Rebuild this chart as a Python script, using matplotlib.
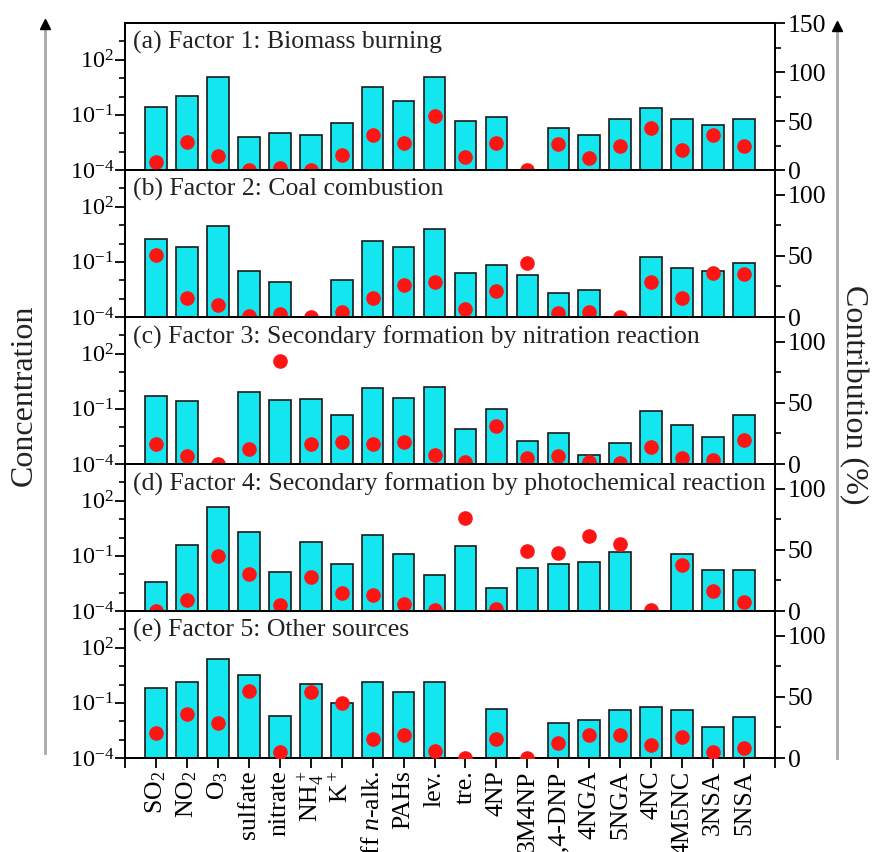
import matplotlib
matplotlib.use("Agg")
import matplotlib.pyplot as plt
import numpy as np
from matplotlib.lines import Line2D
from matplotlib.ticker import FixedLocator, NullFormatter

plt.rcParams["font.family"] = "Liberation Serif"
plt.rcParams["mathtext.fontset"] = "custom"
plt.rcParams["mathtext.rm"] = "Liberation Serif"
plt.rcParams["mathtext.it"] = "Liberation Serif:italic"
plt.rcParams["mathtext.bf"] = "Liberation Serif:bold"
plt.rcParams["axes.unicode_minus"] = False

nan = np.nan

species = ["SO$_2$", "NO$_2$", "O$_3$", "sulfate", "nitrate", "NH$_4^+$", "K$^+$",
           "Diff $n$-alk.", "PAHs", "lev.", "tre.", "4NP", "3M4NP", "2,4-DNP",
           "4NGA", "5NGA", "4NC", "4M5NC", "3NSA", "5NSA"]

titles = ["(a) Factor 1: Biomass burning",
          "(b) Factor 2: Coal combustion",
          "(c) Factor 3: Secondary formation by nitration reaction",
          "(d) Factor 4: Secondary formation by photochemical reaction",
          "(e) Factor 5: Other sources"]

# Konzentrationen (log-Achse, links)
conc_f1 = [0.26, 1.1, 11.4, 0.0066, 0.010, 0.008, 0.035, 3.2, 0.57, 11.4,
           0.049, 0.081, nan, 0.019, 0.008, 0.06, 0.25, 0.06, 0.028, 0.06]
conc_f2 = [1.7, 0.63, 9.2, 0.032, 0.008, nan, 0.011, 1.45, 0.63, 6.1,
           0.026, 0.066, 0.019, 0.0021, 0.0031, nan, 0.18, 0.044, 0.032, 0.085]
conc_f3 = [0.49, 0.28, nan, 0.81, 0.31, 0.35, 0.047, 1.4, 0.38, 1.65,
           0.008, 0.1, 0.0019, 0.0049, 0.00032, 0.0014, 0.081, 0.014, 0.0031, 0.047]
conc_f4 = [0.0038, 0.38, 47, 2.0, 0.013, 0.58, 0.036, 1.3, 0.12, 0.0095,
           0.34, 0.0018, 0.022, 0.038, 0.045, 0.166, nan, 0.12, 0.017, 0.017]
conc_f5 = [0.63, 1.35, 25, 3.1, 0.0195, 1.05, 0.096, 1.35, 0.38, 1.35,
           nan, 0.047, nan, 0.0078, 0.012, 0.041, 0.063, 0.041, 0.0051, 0.018]

# Beitraege in % (rechte Achse)
contrib_f1 = [8, 29, 14, 0, 2, 0, 15, 36, 28, 55, 13, 28, 0, 26.5, 12.5, 24, 42.5, 20.5, 36, 25]
contrib_f2 = [51, 15.5, 9.7, 1, 2.4, 0, 4.3, 15.6, 26.5, 28.5, 6.2, 21, 44, 3, 4.3, 0, 28.5, 15.6, 36, 35.5]
contrib_f3 = [16, 6.7, 0, 12, 84, 16.7, 18, 16, 18, 7.5, 1.3, 31, 4.8, 6.2, 1.3, 1, 14, 4.8, 3.5, 20]
contrib_f4 = [0, 9, 45, 30, 4.6, 28, 14.5, 13, 5.6, 1, 76, 2, 49.4, 47.6, 61.5, 55, 0.5, 37.3, 16.4, 7.5]
contrib_f5 = [20.4, 36, 28.7, 55, 4.7, 53.5, 45, 15.7, 18.4, 5.8, 0, 15.7, 0, 12, 18.4, 19, 10.7, 17, 5.2, 8.5]

concs = [conc_f1, conc_f2, conc_f3, conc_f4, conc_f5]
contribs = [contrib_f1, contrib_f2, contrib_f3, contrib_f4, contrib_f5]
right_max = [150, 120, 120, 120, 120]

ymin, ymax = 1e-4, 1e4
x = np.arange(len(species))

fig, axes = plt.subplots(5, 1, figsize=(8.78, 8.52), dpi=100, sharex=True)
fig.subplots_adjust(left=0.1424, right=0.8827, top=0.973, bottom=0.1103, hspace=0)

for i, ax in enumerate(axes):
    vals = np.array(concs[i], dtype=float)
    ax.set_yscale("log")
    ax.bar(x, vals - ymin, bottom=ymin, width=0.7, color="#14e6f0",
           edgecolor="#1a1a1a", linewidth=1.2, zorder=2)
    ax.set_ylim(ymin, ymax)
    ax.set_xlim(-1, 20)
    ax.yaxis.set_major_locator(FixedLocator([1e-4, 1e-1, 1e2]))
    ax.yaxis.set_minor_locator(FixedLocator([1e-3, 1e-2, 1, 10, 1e3]))
    ax.yaxis.set_minor_formatter(NullFormatter())
    ax.tick_params(axis="y", which="major", direction="out", length=7, width=1.3,
                   labelsize=17.5, pad=1)
    ax.tick_params(axis="y", which="minor", direction="out", length=4, width=1.2)
    for sp in ax.spines.values():
        sp.set_linewidth(1.4)
    ax.text(0.012, 0.865, titles[i], transform=ax.transAxes, fontsize=18.5,
            va="center", ha="left", color="#222222")

    ax2 = ax.twinx()
    ax2.plot(x, contribs[i], "o", color="#ff1414", ms=9.5, mec="#ff1414",
             clip_on=True, zorder=3)
    ax2.set_ylim(0, right_max[i])
    ax2.set_yticks(np.arange(0, right_max[i] + 1, 50))
    ax2.set_yticks(np.arange(25, right_max[i], 50), minor=True)
    ax2.tick_params(axis="y", which="major", direction="out", length=7, width=1.3,
                    labelsize=18.5, pad=2)
    ax2.tick_params(axis="y", which="minor", direction="out", length=4, width=1.2)
    for sp in ax2.spines.values():
        sp.set_linewidth(1.4)

    if i < 4:
        ax.tick_params(axis="x", bottom=False, labelbottom=False)

axes[-1].set_xticks(np.arange(-1, 21))
axes[-1].set_xticklabels([""] + species + [""], rotation=90, fontsize=18.5)
axes[-1].tick_params(axis="x", direction="out", length=7, width=1.3, pad=2)

# Achsenbeschriftungen mit Pfeilen
fig.text(24 / 878, 1 - 395 / 852, "Concentration", rotation=90, fontsize=23,
         ha="center", va="center", color="#222222")
fig.text(853 / 878, 1 - 395 / 852, "Contribution (%)", rotation=270, fontsize=23,
         ha="center", va="center", color="#222222")

for xp, y_top, y_bot in [(45, 26, 753), (837, 28, 758)]:
    fig.add_artist(Line2D([xp / 878, xp / 878], [1 - y_top / 852, 1 - y_bot / 852],
                          transform=fig.transFigure, color="#a8a8a8", lw=2))
    fig.add_artist(Line2D([xp / 878], [1 - (y_top - 2) / 852], transform=fig.transFigure,
                          marker="^", color="black", ms=7, lw=0))

fig.savefig("out.png", dpi=100)
